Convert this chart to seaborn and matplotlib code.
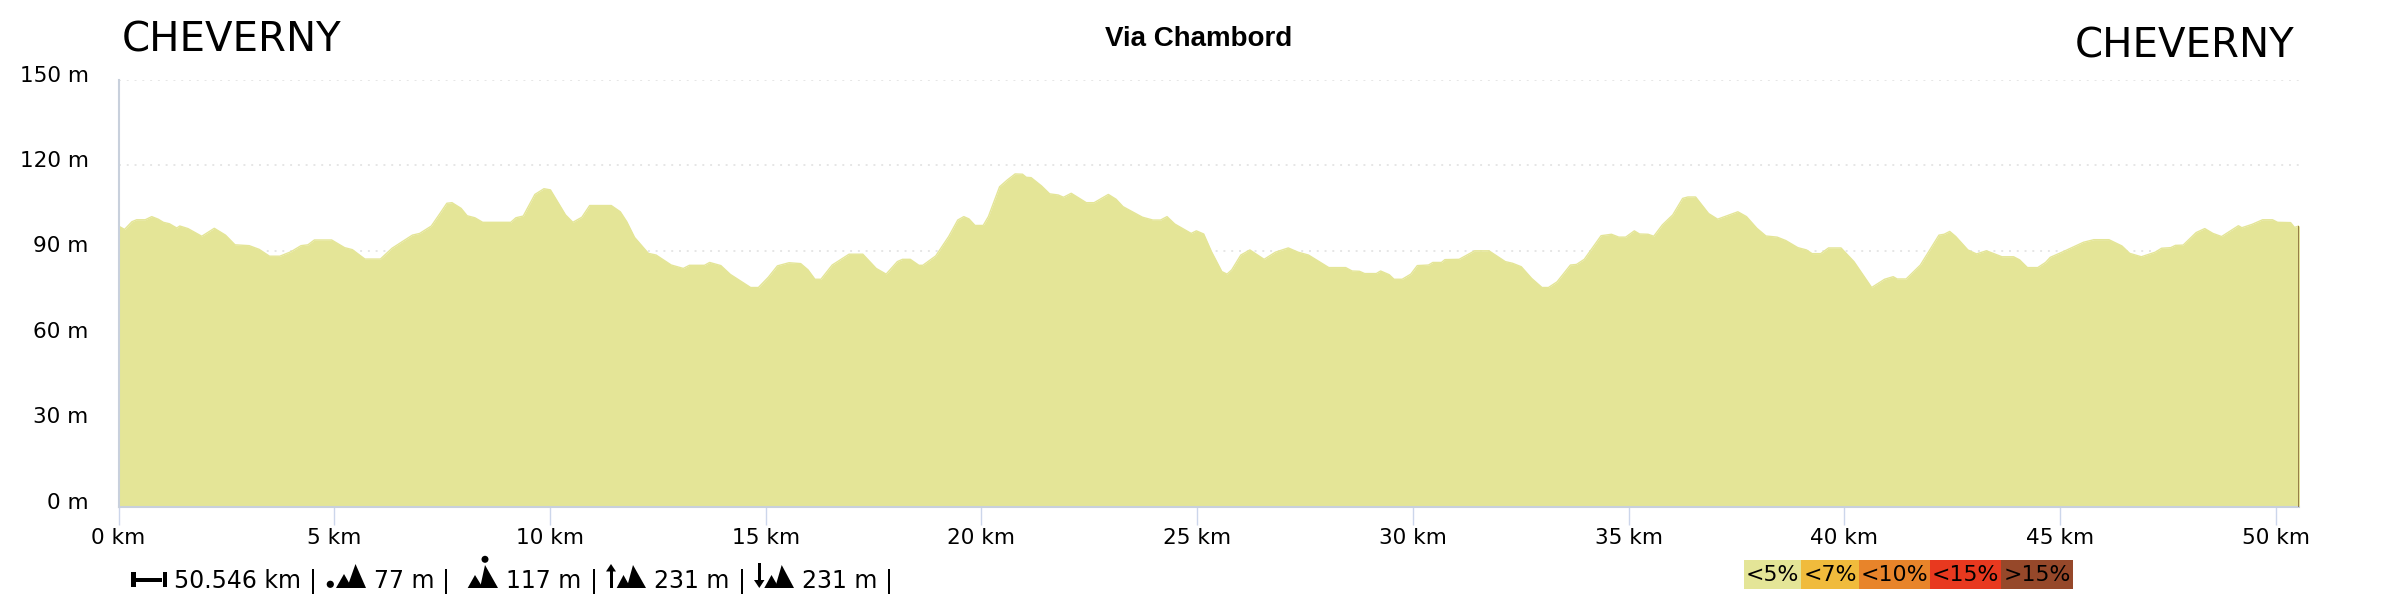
from matplotlib import pyplot as plt
from matplotlib.patches import Circle, Polygon, Rectangle
from matplotlib.transforms import ScaledTranslation
import seaborn as sns
import pandas as pd

# distance (km) and elevation (m)
km = [
    0.0, 0.14, 0.31, 0.42, 0.62, 0.77, 0.92, 1.04, 1.18, 1.35, 1.42, 1.61, 1.93, 2.22, 2.48, 2.70,
    3.03, 3.26, 3.50, 3.74, 4.0, 4.23, 4.39, 4.54, 4.94, 5.24, 5.42, 5.71, 6.07, 6.34, 6.81, 6.98,
    7.25, 7.45, 7.61, 7.73, 7.94, 8.08, 8.26, 8.44, 9.09, 9.21, 9.38, 9.65, 9.86, 10.01, 10.27, 10.36,
    10.53, 10.74, 10.92, 11.42, 11.63, 11.78, 11.96, 12.28, 12.46, 12.81, 13.09, 13.23, 13.58, 13.70,
    13.96, 14.18, 14.65, 14.83, 15.06, 15.27, 15.54, 15.81, 15.98, 16.14, 16.28, 16.54, 16.93, 17.25,
    17.56, 17.79, 18.05, 18.17, 18.35, 18.55, 18.64, 18.94, 19.24, 19.45, 19.59, 19.71, 19.85, 20.04,
    20.16, 20.42, 20.60, 20.78, 20.95, 21.04, 21.15, 21.39, 21.58, 21.78, 21.90, 22.08, 22.43, 22.61,
    22.94, 23.12, 23.28, 23.50, 23.73, 23.97, 24.15, 24.30, 24.48, 24.86, 24.98, 25.15, 25.33, 25.57,
    25.69, 25.80, 26.01, 26.22, 26.55, 26.81, 27.11, 27.34, 27.58, 28.05, 28.44, 28.59, 28.76, 28.88,
    29.15, 29.25, 29.45, 29.56, 29.75, 29.95, 30.10, 30.36, 30.46, 30.66, 30.74, 31.07, 31.43, 31.76,
    32.14, 32.31, 32.51, 32.75, 32.99, 33.14, 33.34, 33.65, 33.79, 33.97, 34.36, 34.60, 34.77, 34.93,
    35.13, 35.25, 35.45, 35.58, 35.78, 36.02, 36.25, 36.37, 36.55, 36.85, 37.06, 37.26, 37.53, 37.73,
    37.97, 38.18, 38.44, 38.64, 38.92, 39.12, 39.25, 39.45, 39.63, 39.92, 40.22, 40.63, 40.93, 41.13,
    41.22, 41.43, 41.76, 42.19, 42.31, 42.44, 42.58, 42.86, 43.06, 43.29, 43.65, 43.92, 44.06, 44.24,
    44.48, 44.66, 44.77, 45.07, 45.54, 45.78, 46.13, 46.43, 46.61, 46.88, 47.20, 47.35, 47.56, 47.67,
    47.85, 48.15, 48.35, 48.54, 48.74, 49.13, 49.21, 49.45, 49.69, 49.92, 50.04, 50.34, 50.43, 50.546,
]
elevation = [
    98.6, 97.4, 100.1, 100.8, 100.8, 101.9, 101.0, 99.9, 99.4, 97.9, 98.6, 97.7, 95.0, 97.8, 95.4, 92.0,
    91.7, 90.4, 88.0, 88.0, 89.6, 91.7, 92.0, 93.7, 93.7, 91.0, 90.3, 87.0, 87.0, 90.8, 95.4, 96.0,
    98.6, 103.0, 106.6, 106.8, 104.8, 102.2, 101.5, 99.9, 99.9, 101.5, 102.1, 109.7, 111.7, 111.3, 104.8, 102.5,
    99.9, 101.7, 105.8, 105.8, 103.6, 100.1, 94.6, 89.0, 88.4, 84.9, 83.7, 84.8, 84.8, 85.8,
    84.7, 81.6, 77.0, 77.0, 80.6, 84.6, 85.7, 85.4, 83.2, 79.9, 79.9, 84.9, 88.7, 88.7,
    83.7, 81.7, 86.1, 86.9, 86.9, 84.8, 84.8, 88.1, 94.9, 100.7, 101.9, 101.1, 98.8, 98.8,
    101.9, 112.4, 114.8, 116.9, 116.8, 115.7, 115.6, 112.7, 109.9, 109.5, 108.7, 110.1, 106.8, 106.8,
    109.7, 108.0, 105.4, 103.6, 101.7, 100.7, 100.7, 101.9, 99.3, 96.0, 96.9, 95.8, 89.6, 82.6,
    81.7, 83.2, 88.4, 90.2, 86.9, 89.4, 90.9, 89.4, 88.4, 84.0, 84.0, 82.8, 82.7, 81.9,
    81.9, 82.8, 81.5, 79.9, 79.9, 81.7, 84.7, 84.9, 85.8, 85.8, 86.8, 86.9, 89.9, 89.9,
    86.1, 85.5, 84.3, 80.2, 77.0, 77.0, 79.0, 84.9, 85.1, 86.9, 95.2, 95.7, 94.7, 94.7,
    96.9, 95.8, 95.7, 95.0, 99.0, 102.5, 108.3, 108.8, 108.8, 103.0, 101.0, 102.1, 103.6, 101.9,
    97.8, 95.1, 94.7, 93.5, 91.0, 90.2, 88.9, 88.9, 90.9, 90.9, 86.1, 77.0, 79.9, 80.8,
    80.0, 80.0, 84.9, 95.4, 95.7, 96.7, 94.9, 90.2, 88.8, 89.9, 87.8, 87.8, 86.7, 84.0,
    84.0, 85.8, 87.6, 89.6, 92.9, 93.8, 93.8, 91.6, 89.0, 87.8, 89.4, 90.8, 91.0, 91.8,
    91.9, 96.3, 97.7, 96.0, 94.9, 98.7, 98.0, 99.2, 100.8, 100.8, 99.9, 99.8, 98.1, 98.7,
]

x_ticks = [0, 5, 10, 15, 20, 25, 30, 35, 40, 45, 50]
y_ticks = [0, 30, 60, 90, 120, 150]
town = "CHEVERNY"
title = "Via Chambord"
legend_labels = ["<5%", "<7%", "<10%", "<15%", ">15%"]
legend_colors = ["#e4e597", "#f0bb3c", "#e8842a", "#e8391f", "#96482a"]
legend_edges = [1744, 1801, 1859, 1930, 2001, 2073]
stats = ["50.546 km", "|", "77 m", "|", "117 m", "|", "231 m", "|", "231 m", "|"]
stats_x = [174, 313, 374, 446, 506, 594, 654, 742, 802, 889]


def mountains(over, small, big):
    for x0, peak, x1, top in (small, big):
        over.add_patch(Polygon([(x0, 588), (peak, top), (x1, 588)], color="black", lw=0))


def main():
    sns.set_theme(style="white")
    plt.rcParams["font.family"] = ["DejaVu Sans"]
    plt.rcParams["text.color"] = "black"

    df = pd.DataFrame({"km": km, "elevation": elevation})
    fig = plt.figure(figsize=(24, 6), dpi=100)
    ax = fig.add_axes([118.5 / 2400, 1 - 506.7 / 600, (2299.5 - 118.5) / 2400, (506.7 - 79.7) / 600])

    ax.fill_between(df["km"], df["elevation"], 0, color=legend_colors[0], lw=0, zorder=2)
    sns.lineplot(data=df, x="km", y="elevation", color=legend_colors[0], lw=1, ax=ax, zorder=2)
    ax.vlines(km[-1], 0, elevation[-1], color="#8f7540", lw=1.3, zorder=3)

    ax.set_xlim(0, km[-1])
    ax.set_ylim(0, 150)
    ax.set_xlabel("")
    ax.set_ylabel("")
    ax.set_xticks(x_ticks, [f"{t} km" for t in x_ticks])
    ax.set_yticks(y_ticks, [f"{t} m" for t in y_ticks])
    ax.grid(axis="y", color="#e6e6e6", ls=(0, (1, 3)), lw=1.4, zorder=0)
    ax.set_axisbelow(True)
    ax.tick_params(axis="x", length=13, width=1, color="#ccd6eb", pad=2, labelsize=15.6, labelcolor="black", bottom=True)
    ax.tick_params(axis="y", length=0, pad=21.5, labelsize=15.5, labelcolor="black")
    shift = ScaledTranslation(0, 6 / 100, fig.dpi_scale_trans)
    for label in ax.get_yticklabels():
        label.set_transform(label.get_transform() + shift)
    for side in ("top", "right"):
        ax.spines[side].set_visible(False)
    ax.spines["left"].set_color("#c8d0dc")
    ax.spines["left"].set_linewidth(1.5)
    ax.spines["bottom"].set_color("#c8d0dc")
    ax.spines["bottom"].set_linewidth(1.5)

    # overlay in pixel coordinates for the header and the footer
    over = fig.add_axes([0, 0, 1, 1], facecolor="none")
    over.set_xlim(0, 2400)
    over.set_ylim(600, 0)
    over.axis("off")

    over.text(122, 52, town, fontsize=29, va="baseline")
    over.text(2294, 57, town, fontsize=29, ha="right", va="baseline")
    over.text(1198.5, 46, title, fontsize=20, fontweight="bold", family="Liberation Sans", ha="center", va="baseline")

    for left, right, color, label in zip(legend_edges, legend_edges[1:], legend_colors, legend_labels):
        over.add_patch(Rectangle((left, 560), right - left, 29, color=color, lw=0))
        over.text((left + right) / 2, 575, label, fontsize=15.8, ha="center", va="center")

    for x, text in zip(stats_x, stats):
        over.text(x, 587.5, text, fontsize=17, va="baseline", ha="center" if text == "|" else "left")

    # distance icon
    over.add_patch(Rectangle((131, 572), 4.5, 15, color="black", lw=0))
    over.add_patch(Rectangle((135, 578), 27, 4, color="black", lw=0))
    over.add_patch(Rectangle((163, 572), 4, 15, color="black", lw=0))
    # lowest point
    over.add_patch(Circle((330.3, 584.3), 3.6, color="black", lw=0))
    mountains(over, (336, 344, 352, 574), (347, 355.5, 366, 564))
    # highest point
    over.add_patch(Circle((485, 559.3), 3.5, color="black", lw=0))
    mountains(over, (467.7, 475, 483, 575), (480, 485, 498, 565))
    # climb
    over.add_patch(Rectangle((609.5, 570), 3, 18, color="black", lw=0))
    over.add_patch(Polygon([(606, 571.5), (611, 564), (616, 571.5)], color="black", lw=0))
    mountains(over, (616.7, 623.5, 630.7, 575), (626.7, 633, 646, 565))
    # descent
    over.add_patch(Rectangle((757.8, 563), 3, 18, color="black", lw=0))
    over.add_patch(Polygon([(754, 580), (759.3, 588), (764.5, 580)], color="black", lw=0))
    mountains(over, (764.3, 771.5, 779, 575), (775, 781.7, 794, 565))

    fig.savefig("out.png", dpi=100)


if __name__ == "__main__":
    main()
